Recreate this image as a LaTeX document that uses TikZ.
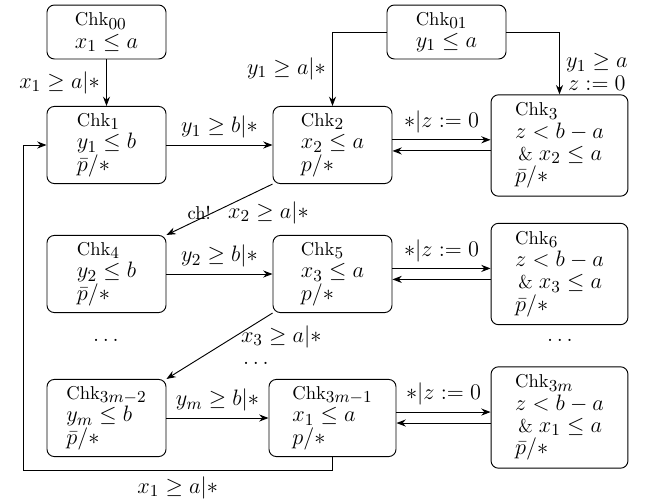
\documentclass[tikz,border=0pt]{standalone}
\usetikzlibrary{arrows.meta}
\DeclareMathSizes{10}{11.5}{9.5}{7}
\begin{document}
\begin{tikzpicture}[x=0.5376pt,y=-0.5376pt,
  >={Stealth[length=5pt,width=3.8pt]},
  every path/.style={line width=0.5pt},
  st/.style={draw, rounded corners=4pt, align=left, minimum width=64pt, inner sep=2pt, line width=0.5pt},
  two/.style={st, minimum height=29pt},
  three/.style={st, minimum height=41.5pt},
  four/.style={st, minimum width=73.6pt, minimum height=54.5pt},
  dots/.style={inner sep=0pt}]
\useasboundingbox (0,0) rectangle (651,502);
% nodes
\node[two] (c00) at (106.5,32) {Chk$_{00}$\\$x_1\leq a$};
\node[two] (c01) at (446.5,32) {Chk$_{01}$\\$y_1\leq a$};
\node[three] (c1) at (106.5,145) {Chk$_1$\\$y_1\leq b$\\$\bar p/\ast$};
\node[three] (c2) at (332.5,145) {Chk$_2$\\$x_2\leq a$\\$p/\ast$};
\node[four] (c3) at (559.5,145.5) {Chk$_3$\\$z<b-a$\\\,\& $x_2\leq a$\\$\bar p/\ast$};
\node[three] (c4) at (106.5,274) {Chk$_4$\\$y_2\leq b$\\$\bar p/\ast$};
\node[three] (c5) at (332.5,274) {Chk$_5$\\$x_3\leq a$\\$p/\ast$};
\node[four] (c6) at (559.5,274) {Chk$_6$\\$z<b-a$\\\,\& $x_3\leq a$\\$\bar p/\ast$};
\node[three] (c3m2) at (106.5,418) {Chk$_{3m-2}$\\$y_m\leq b$\\$\bar p/\ast$};
\node[three, minimum width=68.3pt] (c3m1) at (332.5,418) {Chk$_{3m-1}$\\$x_1\leq a$\\$p/\ast$};
\node[four] (c3m) at (559.5,417.5) {Chk$_{3m}$\\$z<b-a$\\\,\& $x_1\leq a$\\$\bar p/\ast$};
\node[dots] (d1) at (106,340) {$\dots$};
\node[dots] (d2) at (560,340) {$\dots$};
\node[dots] (d3) at (256,363) {$\dots$};
\coordinate (lb) at (23,470);
% edges
\draw[->] (c00) -- (c1) node[midway,left]{$x_1\geq a|\ast$};
\draw[->] (c01.west) -| (c2.north) node[pos=0.75,left]{$y_1\geq a|\ast$};
\draw[->] (c01.east) -| (c3.north) node[pos=0.82,right,align=center]{$y_1\geq a$\\$z:=0$};
\draw[->] (c1) -- (c2) node[midway,above]{$y_1\geq b|\ast$};
\draw[->] ([yshift=2.8pt]c2.east) -- ([yshift=2.8pt]c2.east -| c3.west) node[midway,above]{$\ast|z:=0$};
\draw[->] ([yshift=-3.2pt]c2.east -| c3.west) -- ([yshift=-3.2pt]c2.east);
\draw[->] (c2.south west) -- (c4.north east) node[pos=0.56,left,inner sep=1pt]{ch!} node[pos=0.56,right,xshift=4.5pt]{$x_2\geq a|\ast$};
\draw[->] (c4) -- (c5) node[midway,above]{$y_2\geq b|\ast$};
\draw[->] ([yshift=3pt]c5.east) -- ([yshift=3pt]c5.east -| c6.west) node[midway,above]{$\ast|z:=0$};
\draw[->] ([yshift=-2.9pt]c5.east -| c6.west) -- ([yshift=-2.9pt]c5.east);
\draw[->] (c5.south west) -- (c3m2.north east) node[pos=0.36,right]{$x_3\geq a|\ast$};
\draw[->] (c3m2) -- (c3m1) node[midway,above]{$y_m\geq b|\ast$};
\draw[->] ([yshift=3.2pt]c3m1.east) -- ([yshift=3.2pt]c3m1.east -| c3m.west) node[midway,above]{$\ast|z:=0$};
\draw[->] ([yshift=-2.7pt]c3m1.east -| c3m.west) -- ([yshift=-2.7pt]c3m1.east);
\draw[->] (c3m1.south) |- node[pos=0.75,below]{$x_1\geq a|\ast$} (lb) |- (c1.west);
\end{tikzpicture}
\end{document}
